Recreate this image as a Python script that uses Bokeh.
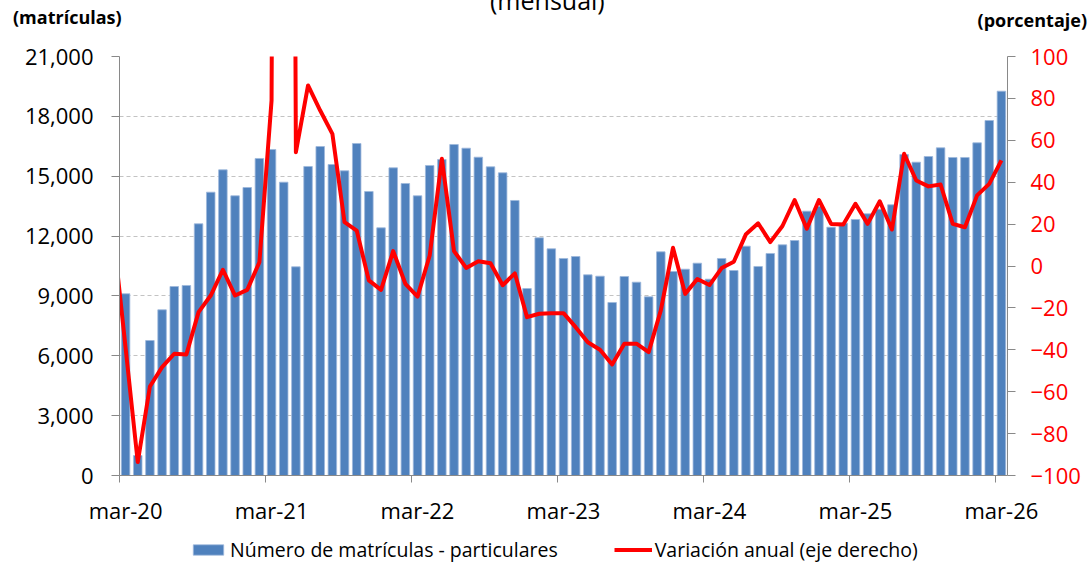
from bokeh.plotting import figure
from bokeh.layouts import column
from bokeh.models import (Range1d, LinearAxis, FixedTicker, NumeralTickFormatter,
                          Legend, LegendItem, Div)
from bokeh.embed import file_html
from bokeh.resources import INLINE

# ---------------- data ----------------
meses = ["mar", "abr", "may", "jun", "jul", "ago", "sep", "oct", "nov", "dic", "ene", "feb"]
anio_inicio = 20
n_meses = 73  # mar-20 ... mar-26
meses_lbl = [f"{meses[i % 12]}-{anio_inicio + (i + 2) // 12}" for i in range(n_meses)]

matriculas = [
    9107, 1002, 6766, 8304, 9472, 9523, 12614, 14200, 15320, 14017, 14434, 15888,
    16339, 14701, 10459, 15487, 16489, 15587, 15270, 16640, 14234, 12413, 15420, 14635,
    14017, 15537, 15838, 16590, 16405, 15954, 15470, 15170, 13783, 9372, 11913, 11361,
    10876, 10976, 10057, 9990, 8671, 9974, 9690, 8955, 11210, 10224, 10341, 10642,
    9840, 10876, 10274, 11494, 10475, 11127, 11561, 11778, 13248, 13482, 12445, 12646,
    12831, 13116, 13348, 13567, 16089, 15704, 15988, 16422, 15938, 15938, 16673, 17792,
    19262,
]

variacion_feb20 = 15.0  # previous month (segment clipped at the axis)
variacion = [
    -39.0, -93.6, -57.5, -48.3, -41.9, -42.2, -22.0, -14.1, -1.8, -14.1, -11.4, 1.8,
    79.0, 1367.0, 54.3, 86.2, 74.2, 63.1, 20.9, 16.9, -6.9, -11.4, 7.1, -8.5,
    -14.6, 5.0, 51.2, 7.1, -0.9, 2.3, 1.3, -9.2, -3.5, -24.4, -22.8, -22.5,
    -22.5, -29.2, -36.4, -40.0, -47.0, -37.1, -37.1, -41.1, -21.2, 8.7, -13.3, -6.2,
    -9.1, -1.0, 2.0, 15.2, 20.4, 11.4, 19.1, 31.5, 17.8, 31.5, 20.1, 19.8,
    29.7, 20.1, 30.9, 17.4, 53.6, 40.8, 38.0, 38.9, 20.1, 18.5, 33.7, 39.2,
    50.4,
]

y_left_ticks = list(range(0, 21001, 3000))
y_right_ticks = list(range(-100, 101, 20))
x_label_every = 12

titulo = "(mensual)"
unidad_izq = "(matrículas)"
unidad_der = "(porcentaje)"
serie_barras = "Número de matrículas - particulares"
serie_linea = "Variación anual (eje derecho)"

# ---------------- styles ----------------
FONT = "Open Sans"
BLUE = "#4F81BD"
BAR_EDGE = "#9DB8DC"
RED = "#FF0000"
AXIS_GRAY = "#898989"
GRID_GRAY = "#C3C3C3"
W = 1089
HEAD_H = 40
FOOT_H = 34
MAIN_H = 564 - HEAD_H - FOOT_H
LEFT_B = 119
RIGHT_B = 82

# ---------------- header texts ----------------
head_html = (
    f'<div style="position:relative;width:{W}px;height:{HEAD_H}px;overflow:hidden;'
    f'font-family:\'{FONT}\';color:#000;">'
    f'<span style="position:absolute;left:490px;top:-12px;font-size:25px;'
    f'line-height:25px;white-space:nowrap;">{titulo}</span>'
    f'<span style="position:absolute;left:13px;top:8px;font-size:18px;font-weight:bold;'
    f'line-height:18px;white-space:nowrap;">{unidad_izq}</span>'
    f'<span style="position:absolute;right:2px;top:11px;font-size:18px;font-weight:bold;'
    f'line-height:18px;white-space:nowrap;">{unidad_der}</span>'
    f'</div>'
)
head = Div(text=head_html, width=W, height=HEAD_H, styles={"margin": "0", "padding": "0"})

# ---------------- main chart ----------------
xc = [i + 0.5 for i in range(n_meses)]

p = figure(width=W, height=MAIN_H, output_backend="svg", toolbar_location=None,
           x_range=Range1d(0, n_meses), y_range=Range1d(0, 21000),
           min_border_left=LEFT_B, min_border_right=RIGHT_B, min_border_top=16,
           min_border_bottom=55)
p.outline_line_color = None
p.background_fill_color = "white"
p.border_fill_color = "white"
p.extra_y_ranges = {"pct": Range1d(-100, 100)}

bars = p.vbar(x=xc, top=matriculas, width=0.7, fill_color=BLUE,
              line_color=BAR_EDGE, line_width=0.8)

xl = [-0.5] + xc
yl = [variacion_feb20] + variacion
ln = p.line(x=xl, y=yl, y_range_name="pct", line_color=RED, line_width=4,
            line_join="round")

# x axis: ticks at category boundaries, labels at category centres
xax = p.xaxis[0]
major = [i + 0.5 for i in range(0, n_meses, x_label_every)]
minor = [float(i) for i in range(0, n_meses, x_label_every)]
xax.ticker = FixedTicker(ticks=major, minor_ticks=minor)
xax.major_label_overrides = {m: meses_lbl[int(m)] for m in major}
xax.major_tick_out = 0
xax.major_tick_in = 0
xax.minor_tick_out = 7
xax.minor_tick_in = 0
xax.minor_tick_line_color = AXIS_GRAY
xax.axis_line_color = AXIS_GRAY
xax.major_label_text_font = FONT
xax.major_label_text_font_size = "22px"
xax.major_label_text_color = "black"
xax.major_label_standoff = 12

# left axis
yax = p.yaxis[0]
yax.ticker = FixedTicker(ticks=y_left_ticks)
yax.formatter = NumeralTickFormatter(format="0,0")
yax.major_tick_out = 8
yax.major_tick_in = 0
yax.minor_tick_out = 0
yax.minor_tick_in = 0
yax.axis_line_color = AXIS_GRAY
yax.major_tick_line_color = AXIS_GRAY
yax.major_label_text_font = FONT
yax.major_label_text_font_size = "22px"
yax.major_label_text_color = "black"
yax.major_label_standoff = 18

# right axis
rax = LinearAxis(y_range_name="pct", ticker=FixedTicker(ticks=y_right_ticks))
rax.major_tick_out = 8
rax.major_tick_in = 0
rax.minor_tick_out = 0
rax.minor_tick_in = 0
rax.axis_line_color = AXIS_GRAY
rax.major_tick_line_color = AXIS_GRAY
rax.major_label_text_font = FONT
rax.major_label_text_font_size = "22px"
rax.major_label_text_color = RED
rax.major_label_standoff = 15
p.add_layout(rax, "right")

# grid
p.xgrid.visible = False
p.ygrid.ticker = FixedTicker(ticks=y_left_ticks[1:])
p.ygrid.grid_line_color = GRID_GRAY
p.ygrid.grid_line_dash = "4 3"
p.ygrid.grid_line_width = 1.2

# ---------------- footer with the legend ----------------
# the footer's ranges keep its copies of the series out of view; only the
# legend entries (which use their styles) are visible there
foot = figure(width=W, height=FOOT_H, output_backend="svg", toolbar_location=None,
              x_axis_type=None, y_axis_type=None,
              x_range=Range1d(0, n_meses), y_range=Range1d(1e9, 2e9),
              min_border_left=LEFT_B, min_border_right=RIGHT_B,
              min_border_top=0, min_border_bottom=0)
foot.outline_line_color = None
foot.grid.visible = False
leg_bar = foot.vbar(x=xc, top=matriculas, width=0.7, fill_color=BLUE,
                    line_color=BAR_EDGE, line_width=0.8)
leg_line = foot.line(x=xl, y=yl, line_color=RED, line_width=4)

legend = Legend(items=[
    LegendItem(label=serie_barras, renderers=[leg_bar]),
    LegendItem(label=serie_linea, renderers=[leg_line]),
], orientation="horizontal", location=(70, 1), glyph_width=38, glyph_height=13,
    label_text_font=FONT, label_text_font_size="19.5px", label_text_color="black",
    label_standoff=3, spacing=56, padding=0, margin=0, border_line_color=None,
    background_fill_alpha=0)
foot.add_layout(legend)

layout = column(head, p, foot, spacing=0)
open("out.html", "w").write(file_html(layout, INLINE))
